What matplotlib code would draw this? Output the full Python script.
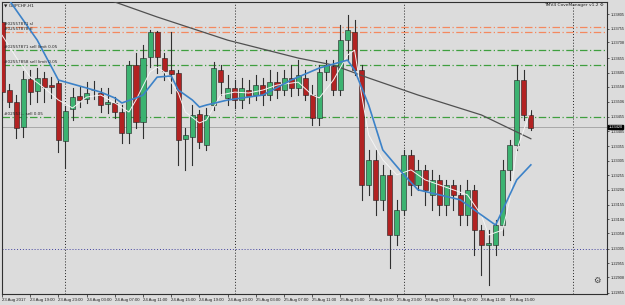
import matplotlib
matplotlib.use('Agg')
import matplotlib.pyplot as plt
from matplotlib.patches import Rectangle

# GBPCHF H1, bar 0 = 23 Aug 2017 15:00
opens = [1.23778, 1.23546, 1.23505, 1.23420, 1.23584, 1.23543, 1.23587, 1.23563, 1.23570, 1.23372,
         1.23481, 1.23526, 1.23515, 1.23547, 1.23536, 1.23498, 1.23502, 1.23471, 1.23400, 1.23631,
         1.23437, 1.23658, 1.23744, 1.23655, 1.23614, 1.23604, 1.23379, 1.23386, 1.23464, 1.23359,
         1.23495, 1.23614, 1.23519, 1.23553, 1.23512, 1.23546, 1.23529, 1.23563, 1.23529, 1.23573,
         1.23546, 1.23587, 1.23553, 1.23587, 1.23529, 1.23451, 1.23608, 1.23628, 1.23546, 1.23716,
         1.23744, 1.23614, 1.23223, 1.23308, 1.23172, 1.23257, 1.23052, 1.23137, 1.23325, 1.23223,
         1.23274, 1.23189, 1.23240, 1.23154, 1.23223, 1.23189, 1.23120, 1.23206, 1.23069, 1.23018,
         1.23018, 1.23086, 1.23274, 1.23359, 1.23580, 1.23461]
highs = [1.23785, 1.23567, 1.23529, 1.23611, 1.23614, 1.23621, 1.23608, 1.23590, 1.23580, 1.23492,
         1.23553, 1.23556, 1.23573, 1.23577, 1.23553, 1.23553, 1.23522, 1.23495, 1.23645, 1.23672,
         1.23699, 1.23750, 1.23747, 1.23672, 1.23744, 1.23614, 1.23417, 1.23495, 1.23478, 1.23485,
         1.23641, 1.23631, 1.23597, 1.23580, 1.23587, 1.23580, 1.23597, 1.23587, 1.23614, 1.23608,
         1.23614, 1.23631, 1.23648, 1.23614, 1.23563, 1.23631, 1.23648, 1.23648, 1.23768, 1.23802,
         1.23785, 1.23631, 1.23342, 1.23342, 1.23291, 1.23274, 1.23172, 1.23342, 1.23342, 1.23308,
         1.23291, 1.23274, 1.23257, 1.23240, 1.23240, 1.23223, 1.23240, 1.23223, 1.23086, 1.23069,
         1.23103, 1.23308, 1.23376, 1.23631, 1.23614, 1.23478]
lows = [1.23512, 1.23488, 1.23383, 1.23386, 1.23498, 1.23505, 1.23505, 1.23519, 1.23335, 1.23281,
        1.23444, 1.23488, 1.23502, 1.23515, 1.23471, 1.23468, 1.23451, 1.23366, 1.23366, 1.23417,
        1.23383, 1.23624, 1.23604, 1.23580, 1.23536, 1.23291, 1.23274, 1.23291, 1.23349, 1.23342,
        1.23478, 1.23529, 1.23495, 1.23485, 1.23485, 1.23502, 1.23512, 1.23495, 1.23512, 1.23519,
        1.23529, 1.23526, 1.23529, 1.23512, 1.23427, 1.23427, 1.23580, 1.23529, 1.23529, 1.23648,
        1.23597, 1.23172, 1.23189, 1.23120, 1.23137, 1.22940, 1.23018, 1.23120, 1.23189, 1.23206,
        1.23154, 1.23137, 1.23120, 1.23120, 1.23137, 1.23086, 1.23086, 1.22984, 1.22916, 1.22882,
        1.22984, 1.23052, 1.23240, 1.23342, 1.23444, 1.23410]
closes = [1.23539, 1.23505, 1.23417, 1.23584, 1.23539, 1.23587, 1.23556, 1.23556, 1.23376, 1.23475,
          1.23522, 1.23512, 1.23536, 1.23545, 1.23495, 1.23505, 1.23471, 1.23400, 1.23631, 1.23437,
          1.23655, 1.23744, 1.23658, 1.23611, 1.23601, 1.23376, 1.23393, 1.23461, 1.23369, 1.23461,
          1.23621, 1.23573, 1.23553, 1.23512, 1.23553, 1.23526, 1.23563, 1.23529, 1.23573, 1.23546,
          1.23587, 1.23553, 1.23597, 1.23529, 1.23451, 1.23608, 1.23631, 1.23546, 1.23716, 1.23750,
          1.23614, 1.23223, 1.23308, 1.23172, 1.23257, 1.23052, 1.23137, 1.23325, 1.23223, 1.23274,
          1.23206, 1.23240, 1.23154, 1.23223, 1.23189, 1.23120, 1.23206, 1.23069, 1.23018, 1.23025,
          1.23086, 1.23274, 1.23359, 1.23580, 1.23461, 1.23417]

# indicator lines (bar index, price)
blue_x = [0, 1, 5, 8, 12, 14, 16, 17, 19, 20, 22, 24, 25, 27, 28, 29, 32, 37, 41, 45, 49, 50, 52, 54, 57, 59, 62, 65, 68, 70, 71, 73, 75]
blue_y = [1.23887, 1.23853, 1.23716, 1.23580, 1.23553, 1.23539, 1.23519, 1.23502, 1.23519, 1.23529, 1.23590, 1.23594,
          1.23546, 1.23512, 1.23488, 1.23495, 1.23512, 1.23529, 1.23580, 1.23621, 1.23648, 1.23614, 1.23495, 1.23342,
          1.23257, 1.23206, 1.23189, 1.23172, 1.23120, 1.23086, 1.23137, 1.23240, 1.23291]
grey_x = [12, 22, 32, 42, 47, 52, 59, 68, 75]
grey_y = [1.23880, 1.23795, 1.23716, 1.23655, 1.23631, 1.23587, 1.23529, 1.23461, 1.23380]
white_x = [0, 2, 4, 6, 8, 10, 12, 14, 16, 18, 19, 21, 22, 23, 25, 26, 28, 29, 31, 33, 35, 37, 39, 42,
           44, 45, 47, 49, 50, 51, 52, 54, 56, 58, 60, 62, 64, 66, 68, 69, 71, 72, 73, 75]
white_y = [1.23733, 1.23658, 1.23590, 1.23553, 1.23512, 1.23485, 1.23522, 1.23529, 1.23502, 1.23471, 1.23512,
           1.23608, 1.23624, 1.23608, 1.23536, 1.23471, 1.23434, 1.23444, 1.23529, 1.23539, 1.23536, 1.23546,
           1.23563, 1.23573, 1.23529, 1.23519, 1.23580, 1.23665, 1.23682, 1.23529, 1.23393, 1.23308, 1.23257,
           1.23274, 1.23240, 1.23223, 1.23206, 1.23189, 1.23120, 1.23052, 1.23069, 1.23172, 1.23342, 1.23478]

# horizontal levels
order_levels = [1.23760, 1.23745, 1.23682, 1.23631, 1.23455]
order_colors = ['#f4895f', '#f4895f', '#3f9f3f', '#3f9f3f', '#3f9f3f']
order_texts = ['#02557871 sl', '#02557878 tl', '#02557871 sell limit 0.05',
               '#02557858 sell limit 0.05', '#02553... sell 0.05']
bid = 1.23420
blue_level = 1.23003

price_ticks = [1.23805, 1.23755, 1.23708, 1.23655, 1.23605, 1.23558, 1.23506, 1.23455, 1.23405, 1.23355,
               1.23305, 1.23255, 1.23206, 1.23155, 1.23106, 1.23058, 1.23005, 1.22955, 1.22908, 1.22855]
time_idx = [0, 4, 8, 12, 16, 20, 24, 28, 32, 36, 40, 44, 48, 52, 56, 60, 64, 68, 72]
time_labels = ['23 Aug 2017', '23 Aug 19:00', '23 Aug 23:00', '24 Aug 03:00', '24 Aug 07:00', '24 Aug 11:00',
               '24 Aug 15:00', '24 Aug 19:00', '24 Aug 23:00', '25 Aug 03:00', '25 Aug 07:00', '25 Aug 11:00',
               '25 Aug 15:00', '25 Aug 19:00', '25 Aug 23:00', '28 Aug 03:00', '28 Aug 07:00', '28 Aug 11:00',
               '28 Aug 15:00']
day_idx = [9, 33, 57, 81]

bg = '#dcdcdc'
fig = plt.figure(figsize=(6.25, 3.05), dpi=100, facecolor=bg)
ax = fig.add_axes([2 / 625, 1 - 294 / 305, 605 / 625, 292 / 305], facecolor=bg)
ax.set_xlim(0, 85.8)
ax.set_ylim(1.22851, 1.23846)

for d in day_idx:
    ax.axvline(d, color='#202020', lw=0.7, ls=(0, (1, 2)), zorder=1)
for lv, c in zip(order_levels, order_colors):
    ax.axhline(lv, color=c, lw=0.9, ls=(0, (6, 2, 1, 2)), zorder=1)
ax.axhline(bid, color='#a8a8a8', lw=0.7, zorder=1)
ax.axhline(blue_level, color='#4040a0', lw=0.7, ls=(0, (1, 2)), zorder=1)

for i in range(len(opens)):
    o, h, l, c = opens[i], highs[i], lows[i], closes[i]
    ax.plot([i, i], [l, h], color='#303030', lw=0.8, zorder=2)
    col = '#3cb371' if c >= o else '#b22222'
    bot = min(o, c)
    ht = max(abs(c - o), 0.000015)
    ax.add_patch(Rectangle((i - 0.36, bot), 0.72, ht, facecolor=col, edgecolor='#202020', lw=0.4, zorder=3))

ax.plot(grey_x, grey_y, color='#505050', lw=0.9, zorder=4)
ax.plot(white_x, white_y, color='#f4f4f4', lw=0.7, zorder=4)
ax.plot(blue_x, blue_y, color='#3c82c8', lw=1.2, zorder=5)

for lv, t in zip(order_levels, order_texts):
    ax.text(0.3, lv + 0.00003, t, fontsize=3, color='#202020', va='bottom', ha='left', zorder=6)

ax.yaxis.tick_right()
ax.set_yticks(price_ticks)
ax.set_yticklabels(['%.5f' % p for p in price_ticks], fontsize=2.8, family='Liberation Sans')
ax.tick_params(axis='y', length=1.5, width=0.5, pad=1, colors='#202020')
ax.set_xticks(time_idx)
ax.set_xticklabels(time_labels, fontsize=3.1, family='Liberation Sans')
for lbl in ax.get_xticklabels():
    lbl.set_horizontalalignment('left')
ax.tick_params(axis='x', length=2, width=0.5, pad=1, colors='#202020')
for s in ax.spines.values():
    s.set_color('#303030')
    s.set_linewidth(0.8)

ax.text(1.002, bid, '%.5f' % bid, transform=ax.get_yaxis_transform(), fontsize=2.8, color='white',
        va='center', ha='left', family='Liberation Sans',
        bbox=dict(boxstyle='square,pad=0.12', fc='black', ec='black'), zorder=7)

ax.text(0.004, 0.995, '\u25bc GBPCHF,H1', transform=ax.transAxes, fontsize=3.2, va='top', ha='left', color='#202020')
ax.text(0.995, 0.995, 'TMV4 CoveManager v1.2 \u2699', transform=ax.transAxes, fontsize=3.2, va='top', ha='right',
        color='#202020')
ax.text(0.99, 0.03, '\u2699', transform=ax.transAxes, fontsize=6, va='bottom', ha='right', color='#404040')

fig.savefig('out.png', dpi=100, facecolor=bg)
